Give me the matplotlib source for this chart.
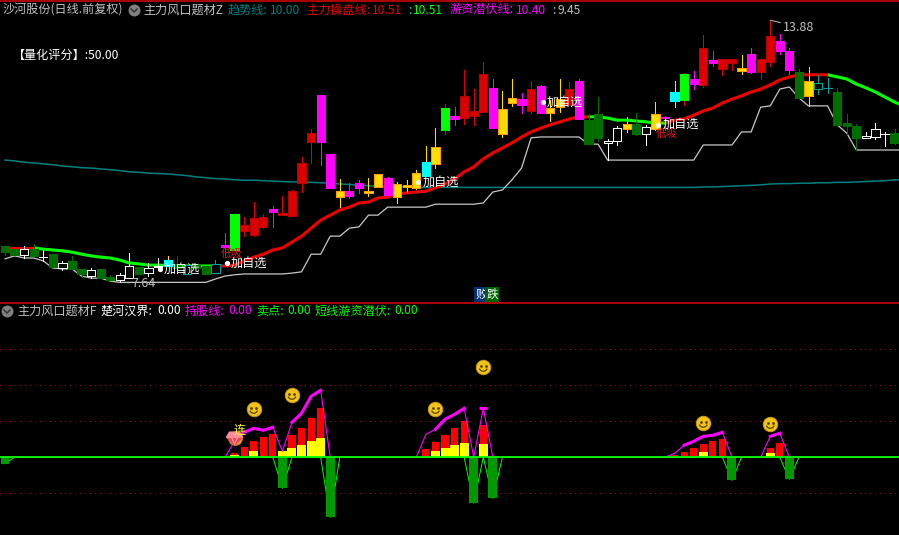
import numpy as np
import matplotlib
matplotlib.use("Agg")
import matplotlib.pyplot as plt
from matplotlib.transforms import Affine2D, IdentityTransform

plt.rcParams["font.family"] = ["Noto Sans CJK SC", "DejaVu Sans"]

# candle data, one entry per bar
body_top = [8.51, 8.43, 8.43, 8.43, 8.25, 8.31, 8.10, 8.15, 7.96, 7.93, 7.96, 7.77, 7.82, 8.03, 8.01, 7.98,
            8.02, 8.17, 8.05, 8.05, 8.05, 8.03, 8.08, 8.53, 9.27, 9.00, 9.17, 9.20, 9.39, 9.29, 9.81, 10.48,
            11.19, 12.10, 10.70, 9.81, 9.81, 10.00, 9.81, 10.22, 10.12, 9.98, 9.96, 10.24, 10.50, 10.86, 11.79, 11.60,
            12.08, 11.72, 12.60, 12.27, 11.77, 12.03, 12.00, 12.24, 12.31, 11.79, 12.00, 12.24, 12.43, 11.50, 11.65, 11.00,
            11.31, 11.41, 11.41, 11.34, 11.65, 11.58, 12.17, 12.60, 12.48, 13.22, 12.93, 12.96, 12.96, 12.74, 13.07, 12.96,
            13.50, 13.38, 13.15, 12.65, 12.43, 12.38, 12.27, 12.17, 11.43, 11.36, 11.12, 11.29, 11.17, 11.19]
body_bot = [8.36, 8.29, 8.29, 8.27, 8.24, 8.01, 7.98, 7.96, 7.84, 7.79, 7.74, 7.70, 7.70, 7.74, 7.84, 7.86,
            8.01, 8.03, 7.98, 7.84, 7.98, 7.84, 7.86, 8.48, 8.41, 8.86, 8.77, 8.96, 9.31, 9.24, 9.22, 10.00,
            10.98, 10.98, 9.89, 9.67, 9.70, 9.89, 9.77, 9.91, 9.72, 9.67, 9.91, 9.89, 10.17, 10.46, 11.27, 11.53,
            11.55, 11.60, 11.69, 11.31, 11.17, 11.91, 11.86, 11.72, 11.67, 11.67, 11.81, 11.86, 11.53, 10.93, 11.08, 10.96,
            11.00, 11.29, 11.17, 11.17, 11.29, 11.56, 11.96, 11.98, 12.36, 12.34, 12.86, 12.72, 12.86, 12.67, 12.65, 12.65,
            12.88, 13.15, 12.69, 12.03, 12.08, 12.24, 12.26, 11.39, 11.36, 11.08, 11.08, 11.10, 11.16, 10.96]
highs = [8.51, 8.43, 8.51, 8.55, 8.41, 8.31, 8.15, 8.27, 7.96, 7.98, 7.96, 7.82, 7.86, 8.34, 8.01, 8.10,
         8.22, 8.27, 8.27, 8.05, 8.05, 8.03, 8.17, 8.81, 9.29, 9.20, 9.55, 9.27, 9.46, 9.70, 9.84, 10.62,
         11.29, 12.10, 10.70, 10.10, 10.00, 10.08, 10.12, 10.22, 10.15, 10.03, 10.08, 10.31, 10.89, 11.31, 11.89, 11.81,
         12.69, 12.24, 12.88, 12.48, 12.19, 12.48, 12.15, 12.43, 12.34, 11.98, 12.48, 12.41, 12.48, 11.65, 12.05, 11.05,
         11.36, 11.58, 11.67, 11.39, 11.93, 11.60, 12.43, 12.62, 12.67, 13.53, 13.15, 12.96, 12.96, 13.05, 13.22, 12.98,
         13.88, 13.55, 13.22, 12.72, 12.77, 12.58, 12.50, 12.27, 11.65, 11.41, 11.22, 11.43, 11.22, 11.29]
lows = [8.29, 8.29, 8.22, 8.27, 8.15, 8.01, 7.93, 7.96, 7.77, 7.74, 7.74, 7.70, 7.64, 7.74, 7.84, 7.79,
        7.93, 8.03, 7.98, 7.84, 7.98, 7.84, 7.86, 8.31, 8.41, 8.74, 8.74, 8.93, 8.96, 9.24, 9.22, 9.79,
        10.48, 10.43, 9.89, 9.43, 9.65, 9.77, 9.70, 9.91, 9.72, 9.53, 9.79, 9.86, 10.17, 10.36, 11.17, 11.39,
        11.41, 11.39, 11.69, 11.31, 11.10, 11.84, 11.67, 11.67, 11.67, 11.48, 11.69, 11.86, 11.53, 10.93, 11.00, 10.55,
        10.91, 11.22, 11.15, 10.91, 11.27, 11.27, 11.81, 11.86, 12.24, 12.29, 12.79, 12.58, 12.69, 12.60, 12.62, 12.48,
        12.79, 13.07, 12.60, 12.03, 11.84, 12.12, 12.15, 11.39, 11.17, 10.79, 11.08, 11.05, 10.89, 10.93]
# d dark green, w white hollow, t teal hollow, r red, m magenta, y yellow, g green, c cyan
kinds = list("ddwdwdwddwddwwdwwcdtddtmgrrrmrrrrmmymmyymyyycygmrrrmyymrmyyrmddwwydwymcgmrmrrymrrmmdyttdddwwwd")

# overlay lines, the last value belongs to the bar just past the right edge
trend_line = [10.55, 10.53, 10.50, 10.48, 10.46, 10.44, 10.41, 10.39, 10.37, 10.36, 10.34, 10.32, 10.30, 10.27, 10.26, 10.24,
              10.23, 10.22, 10.20, 10.18, 10.15, 10.13, 10.11, 10.10, 10.08, 10.07, 10.07, 10.06, 10.05, 10.04, 10.03, 10.03,
              10.02, 10.01, 10.00, 9.98, 9.97, 9.95, 9.94, 9.93, 9.92, 9.92, 9.91, 9.90, 9.90, 9.90, 9.90, 9.90,
              9.90, 9.90, 9.90, 9.90, 9.90, 9.90, 9.90, 9.90, 9.90, 9.90, 9.90, 9.90, 9.90, 9.90, 9.90, 9.90,
              9.90, 9.90, 9.90, 9.90, 9.90, 9.90, 9.90, 9.90, 9.90, 9.91, 9.91, 9.92, 9.93, 9.94, 9.95, 9.96,
              9.98, 9.99, 9.99, 10.00, 10.00, 10.01, 10.01, 10.02, 10.02, 10.03, 10.04, 10.05, 10.06, 10.08, 10.08]
main_line = [8.46, 8.46, 8.46, 8.46, 8.43, 8.41, 8.39, 8.36, 8.31, 8.27, 8.24, 8.22, 8.17, 8.10, 8.08, 8.05,
             8.05, 8.04, 8.03, 8.03, 8.03, 8.03, 8.03, 8.03, 8.05, 8.15, 8.24, 8.31, 8.41, 8.46, 8.60, 8.74,
             8.93, 9.12, 9.24, 9.36, 9.43, 9.53, 9.55, 9.65, 9.67, 9.74, 9.77, 9.79, 9.81, 9.89, 9.98, 10.10,
             10.27, 10.39, 10.58, 10.72, 10.84, 10.96, 11.10, 11.22, 11.31, 11.39, 11.46, 11.53, 11.58, 11.58, 11.58, 11.55,
             11.50, 11.50, 11.48, 11.46, 11.43, 11.43, 11.50, 11.53, 11.62, 11.72, 11.79, 11.91, 12.00, 12.08, 12.17, 12.24,
             12.34, 12.46, 12.53, 12.58, 12.58, 12.58, 12.58, 12.53, 12.48, 12.36, 12.27, 12.17, 12.05, 11.93, 11.84]
# (first bar, last bar, colour) of the two-colour line
main_runs = [(0, 3, "#ee0000"), (3, 22, "#00ff00"), (22, 61, "#ee0000"), (61, 69, "#00ff00"),
             (69, 86, "#ee0000"), (86, 94, "#00ff00")]
hide_line = [8.20, 8.27, 8.22, 8.22, 8.15, 7.98, 7.96, 7.96, 7.79, 7.74, 7.74, 7.67, 7.64, 7.64, 7.64, 7.64,
             7.64, 7.64, 7.64, 7.64, 7.64, 7.64, 7.72, 7.79, 7.82, 7.84, 7.84, 7.84, 7.84, 7.84, 7.86, 7.89,
             8.31, 8.31, 8.74, 8.74, 8.93, 8.96, 9.24, 9.24, 9.43, 9.43, 9.43, 9.43, 9.43, 9.50, 9.50, 9.50,
             9.50, 9.50, 9.53, 9.79, 9.84, 10.08, 10.36, 11.08, 11.10, 11.10, 11.10, 11.10, 11.10, 10.93, 10.93, 10.55,
             10.55, 10.55, 10.55, 10.55, 10.55, 10.55, 10.55, 10.55, 10.55, 10.91, 10.91, 10.91, 10.91, 11.22, 11.22, 11.81,
             11.84, 12.24, 12.29, 12.03, 11.84, 11.84, 11.84, 11.39, 11.19, 10.79, 10.79, 10.79, 10.79, 10.79, 10.79]

# signals on the price panel
buy_x = [16.2, 23.2, 43.2, 56.2, 68.3]
buy_price = [7.96, 8.10, 10.03, 11.93, 11.39]
low_x = [23.7, 69.2]
low_price = [8.31, 11.17]

# lower panel
red_idx = [24, 25, 26, 27, 28, 30, 31, 32, 33, 44, 45, 46, 47, 48, 50, 70, 71, 72, 73, 74, 75, 80, 81]
red_val = [4, 10, 16, 20, 23, 22, 29, 39, 49, 8, 15, 22, 29, 36, 32, 2, 5, 9, 13, 16, 18, 9, 14]
yellow_idx = [24, 26, 29, 30, 31, 32, 33, 45, 46, 47, 48, 50, 73, 80]
yellow_val = [2, 6, 6, 9, 12, 16, 19, 6, 9, 12, 14, 13, 5, 4]
sell_idx = [0, 29, 34, 49, 51, 76, 82]
sell_val = [-6.5, -31, -60, -46, -41, -23, -22]
hold_idx = [24, 25, 26, 27, 28, 29, 30, 31, 32, 33, 44, 45, 46, 47, 48, 50, 70, 71, 72, 73, 74, 75, 80, 81]
hold_val = [16, 25, 29, 27, 30, 6, 35, 44, 61, 67, 23, 28, 38, 43, 49, 49, 4, 12, 16, 21, 22, 25, 21, 24]
hold_thick_runs = [(25, 28), (30, 33), (45, 48), (71, 75), (80, 81)]
smile_idx = [26, 30, 50, 45, 73, 80]
smile_val = [48, 62, 90, 48, 34, 33]
grid_levels = [108, 72, 36, -36]

n = len(body_top)
x = np.arange(n)
line_x = np.arange(len(main_line))
X_LIM = (-0.523, 93.46)
BG = "#000000"
FRAME = "#b00000"
GREY = "#c0c0c0"

FACE = {"r": "#dd0000", "m": "#ff00ff", "y": "#ffdc00", "g": "#00ff00", "c": "#00ffff",
        "d": "#006f00", "w": BG, "t": BG}
EDGE = {"r": "#b80000", "m": "#ff00ff", "y": "#ff9c00", "g": "#00ff00", "c": "#00ffff",
        "d": "#006f00", "w": "#ffffff", "t": "#00a0a0"}
WICK = {"r": "#dd0000", "m": "#ff00ff", "y": "#ffe000", "g": "#dd0000", "c": "#ffe000",
        "d": "#006f00", "w": "#ffffff", "t": "#00a0a0"}

fig = plt.figure(figsize=(8.99, 5.35), dpi=100, facecolor=BG)
ax = fig.add_axes([0, 233 / 535, 1, 301 / 535], facecolor=BG)
ax2 = fig.add_axes([0, 0, 1, 232 / 535], facecolor=BG)
overlay = fig.add_axes([0, 0, 1, 1])
overlay.set_xlim(0, 899)
overlay.set_ylim(535, 0)
overlay.axis("off")

for a in (ax, ax2):
    a.set_xlim(*X_LIM)
    a.set_xticks([])
    a.set_yticks([])
    for side in ("left", "right", "bottom"):
        a.spines[side].set_visible(False)
    a.spines["top"].set_color(FRAME)
    a.spines["top"].set_linewidth(1.4)
ax.set_ylim(14.36 - 0.0238 * 302, 14.36 - 0.0238 * 1)
ax2.set_ylim(-77.7, 154.3)

# price panel
ax.plot(line_x, trend_line, color="#008080", lw=1.1, zorder=2)
ax.plot(line_x, hide_line, color="#c8c8c8", lw=0.9, zorder=2)
main_arr = np.array(main_line)
for start, end, col in main_runs:
    ax.plot(line_x[start:end + 1], main_arr[start:end + 1], color=col, lw=2.2, zorder=2.5,
            solid_capstyle="butt")

for i in range(n):
    k = kinds[i]
    ax.vlines(i, lows[i], highs[i], color=WICK[k], lw=0.6, zorder=3, antialiased=False)
    ax.bar(i, body_top[i] - body_bot[i], bottom=body_bot[i], width=0.86, color=FACE[k],
           edgecolor=EDGE[k], linewidth=0.6, zorder=4, antialiased=False)

for bx, bp in zip(low_x, low_price):
    ax.text(bx, bp, "低吸", color="#dd2020", fontsize=7.8, ha="center", va="center", zorder=5)
for bx, bp in zip(buy_x, buy_price):
    ax.plot(bx, bp, "o", color="#ffffff", ms=3.8, mew=0, zorder=6)
    ax.annotate("加自选", xy=(bx, bp), xytext=(4, 0), textcoords="offset pixels", color="#ffffff",
                fontsize=8.7, ha="left", va="center", zorder=6)

ax.annotate("13.88", xy=(80, highs[80]), xytext=(13, -7), textcoords="offset pixels", color=GREY,
            fontsize=9, ha="left", va="center", zorder=6,
            arrowprops=dict(arrowstyle="-", color=GREY, lw=0.7, shrinkA=0, shrinkB=0))
ax.annotate("7.64", xy=(12, lows[12]), xytext=(12, -1), textcoords="offset pixels", color=GREY,
            fontsize=9, ha="left", va="center", zorder=6,
            arrowprops=dict(arrowstyle="-", color=GREY, lw=0.7, shrinkA=0, shrinkB=0))

# lower panel
red = np.zeros(n)
red[red_idx] = red_val
yellow = np.zeros(n)
yellow[yellow_idx] = yellow_val
sell = np.zeros(n)
sell[sell_idx] = sell_val
hold = np.zeros(n)
hold[hold_idx] = hold_val

for lv in grid_levels:
    ax2.axhline(lv, color="#a00000", lw=0.72, ls=(0, (1, 5)), zorder=1, antialiased=False)

ax2.bar(x[red > 0], red[red > 0], width=0.74, color="#ff0000", zorder=2, antialiased=False)
ax2.bar(x[yellow > 0], yellow[yellow > 0], width=0.94, color="#ffff00", zorder=3, antialiased=False)
ax2.bar(x[sell < 0], sell[sell < 0], width=0.94, color="#009900", zorder=3, antialiased=False)
ax2.plot(x, sell, color="#00ff00", lw=0.7, zorder=2.5)
ax2.plot(x, hold, color="#ff00ff", lw=0.8, zorder=4)
for start, end in hold_thick_runs:
    ax2.plot(x[start:end + 1], hold[start:end + 1], color="#ff00ff", lw=2.2, zorder=4.1)
ax2.plot(50, hold[50], marker="_", ms=5.5, mew=2.2, color="#ff00ff", zorder=4.1)
ax2.axhline(0, color="#00ff00", lw=1.3, zorder=5)

fig.canvas.draw()
px_trans = IdentityTransform()


def smiley(a, i, v):
    a.plot(i, v, "o", ms=10.4, mfc="#f2c418", mec="#c89a10", mew=0.7, zorder=6)
    for dx in (-2.5, 2.5):
        a.plot([i], [v], "o", ms=2.0, color="#5a4000", mew=0, zorder=7,
               transform=a.transData + Affine2D().translate(dx, 1.5))
    t = np.linspace(np.pi * 1.15, np.pi * 1.85, 12)
    px, py = a.transData.transform((i, v))
    a.plot(px + 4 * np.cos(t), py + 4 * np.sin(t), color="#5a4000", lw=0.9, zorder=7, transform=px_trans)


for i, v in zip(smile_idx, smile_val):
    smiley(ax2, i, v)

# gem with coin on the first signal bar
ax2.plot(24, 19, "o", ms=10, mfc="#e8a818", mec="#b08010", mew=0.6, zorder=6)
gem_x = np.array([-5, 5, 8, 0, -8])
gem_y = np.array([6, 6, 1, -7, 1])
gx, gy = ax2.transData.transform((24, 19))
ax2.fill(gx + gem_x, gy + gem_y, color="#f04858", zorder=7, transform=px_trans)
ax2.fill(gx + np.array([-5, 5, 8, -8]), gy + np.array([6, 6, 1, 1]), color="#ff8c98", zorder=7.1, transform=px_trans)
ax2.plot(gx + np.array([-3, 0, 3]), gy + np.array([1, -6, 1]), color="#ffb0b8", lw=0.6, zorder=7.2, transform=px_trans)
ax2.text(24.5, 27.5, "连", color="#ffff30", fontsize=8.7, ha="center", va="center", zorder=8)


# header strips
def label(px, py, s, color=GREY, size=8.7):
    overlay.text(px, py, s, color=color, fontsize=size, ha="left", va="center")


def icon(px, py):
    overlay.plot(px, py, "o", ms=8.6, color="#808080", mew=0)
    overlay.plot([px - 3, px, px + 3], [py - 1, py + 2, py - 1], color="#333333", lw=1.1)


label(3, 10, "沙河股份(日线.前复权)")
icon(134, 10)
label(143, 10, "主力风口题材Z")
label(228, 10, "趋势线:", "#008080")
label(270, 10, "10.00", "#008080")
label(306, 10, "主力操盘线:", "#ee0000")
label(372, 10, "10.51", "#ee0000")
label(408, 10, ":", "#00c8c8")
label(413, 10, "10.51", "#00ff00")
label(450, 10, "游资潜伏线:", "#ff00ff")
label(516, 10, "10.40", "#ff00ff")
label(552, 10, ":", GREY)
label(558, 10, "9.45", GREY)

label(13, 55, "【量化评分】:50.00", "#ffffff")

icon(7, 311)
label(17, 311, "主力风口题材F")
label(101, 311, "楚河汉界:", "#ffffff")
label(157, 311, "0.00", "#ffffff")
label(185, 311, "持股线:", "#ff00ff")
label(228, 311, "0.00", "#ff00ff")
label(256, 311, "卖点:", "#00ff00")
label(287, 311, "0.00", "#00ff00")
label(315, 311, "短线游资潜伏:", "#00ff00")
label(394, 311, "0.00", "#00ff00")

# tags at the foot of the price panel
overlay.text(481, 294.5, "败", color="#ffffff", fontsize=8.4, ha="center", va="center",
             bbox=dict(facecolor="#003070", edgecolor="none", pad=0.5))
overlay.text(492, 294.5, "跌", color="#ffffff", fontsize=8.4, ha="center", va="center",
             bbox=dict(facecolor="#006400", edgecolor="none", pad=0.5))

fig.savefig("out.png", dpi=100, facecolor=BG)
